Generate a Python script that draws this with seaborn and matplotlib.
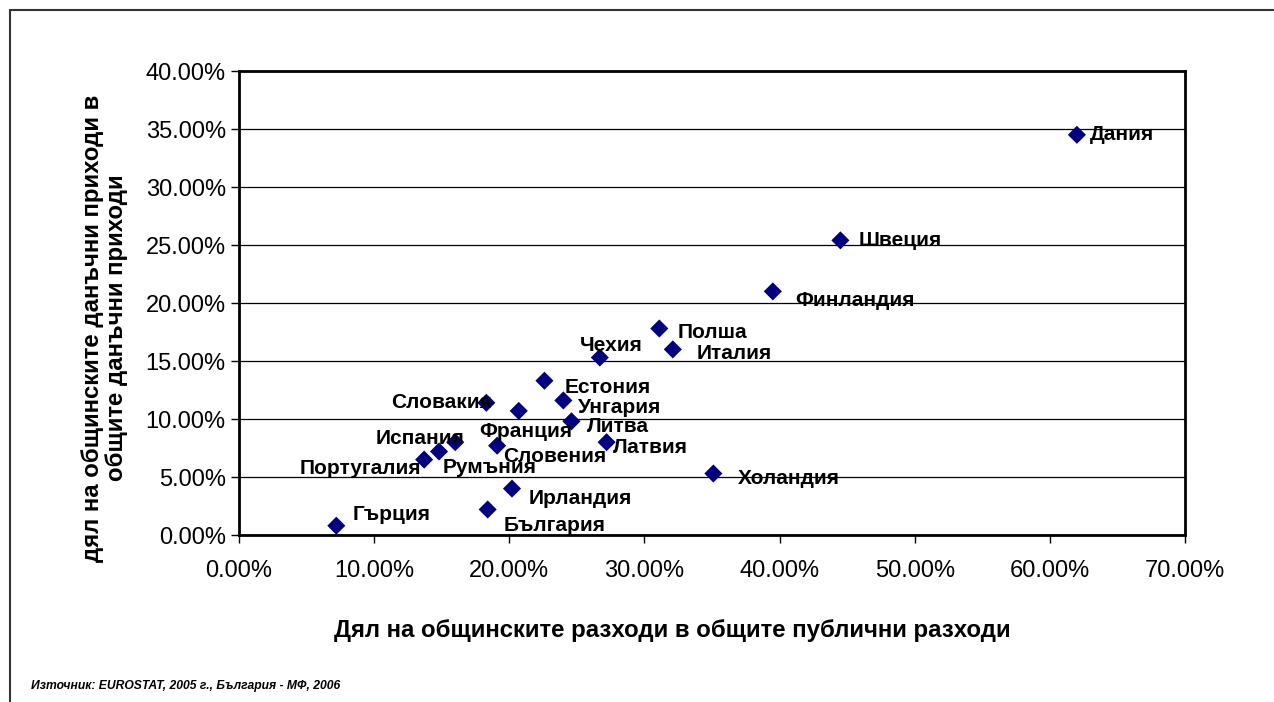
import numpy as np
import pandas as pd
import matplotlib
matplotlib.use('Agg')
import matplotlib.pyplot as plt
import seaborn as sns
from matplotlib.patches import Rectangle
from matplotlib.ticker import PercentFormatter

# data (share of municipal spending / share of municipal tax revenue)
countries = ['Дания', 'Швеция', 'Финландия', 'Полша', 'Италия', 'Чехия', 'Естония',
             'Словакия', 'Унгария', 'Франция', 'Литва', 'Испания', 'Латвия', 'Словения',
             'Румъния', 'Португалия', 'Холандия', 'Ирландия', 'България', 'Гърция']
spend_share = [0.620, 0.445, 0.395, 0.311, 0.321, 0.267, 0.226,
               0.183, 0.240, 0.207, 0.246, 0.160, 0.272, 0.191,
               0.148, 0.137, 0.351, 0.202, 0.184, 0.072]
tax_share = [0.345, 0.254, 0.210, 0.178, 0.160, 0.153, 0.133,
             0.114, 0.116, 0.107, 0.098, 0.080, 0.080, 0.077,
             0.072, 0.065, 0.053, 0.040, 0.022, 0.008]

# label placement: offset in pixels from the marker, and horizontal alignment
label_offsets = {
    'Дания': (13, 0, 'left'), 'Швеция': (18, 0, 'left'), 'Финландия': (22, -9, 'left'),
    'Полша': (18, -4, 'left'), 'Италия': (24, -4, 'left'), 'Чехия': (-20, 12, 'left'),
    'Естония': (20, -7, 'left'), 'Словакия': (6, 0, 'right'), 'Унгария': (15, -7, 'left'),
    'Франция': (7, -21, 'center'), 'Литва': (15, -5, 'left'), 'Испания': (9, 4, 'right'),
    'Латвия': (6, -5, 'left'), 'Словения': (6, -11, 'left'), 'Румъния': (4, -16, 'left'),
    'Португалия': (-3, -9, 'right'), 'Холандия': (24, -5, 'left'), 'Ирландия': (17, -10, 'left'),
    'България': (16, -16, 'left'), 'Гърция': (16, 11, 'left'),
}

df = pd.DataFrame({'country': countries, 'spend': spend_share, 'tax': tax_share})

sns.set_style('white')
plt.rcParams['font.family'] = ['Liberation Sans', 'DejaVu Sans']
plt.rcParams['text.color'] = 'black'

fig = plt.figure(figsize=(12.74, 7.02), dpi=100)
ax = fig.add_axes([239 / 1274, 1 - 535 / 702, 946 / 1274, 464 / 702])

# outer chart frame (only top and left edges visible in the picture)
fig.patches.append(Rectangle((10 / 1274, -0.1), 1.2, 1 - 10 / 702 + 0.1,
                             transform=fig.transFigure, fill=False,
                             edgecolor='#333333', linewidth=1.5))

sns.scatterplot(data=df, x='spend', y='tax', ax=ax, marker='D', s=85,
                color='#000080', edgecolor='none', zorder=3, legend=False)

for name, x, y in zip(countries, spend_share, tax_share):
    dx, dy, ha = label_offsets[name]
    ax.annotate(name, (x, y), xytext=(dx, dy), textcoords='offset pixels',
                ha=ha, va='center', fontsize=15, fontweight='bold', color='black')

ax.set_xlim(0, 0.7)
ax.set_ylim(0, 0.4)
ax.set_xticks(np.arange(0, 0.71, 0.1))
ax.set_yticks(np.arange(0, 0.41, 0.05))
ax.xaxis.set_major_formatter(PercentFormatter(1.0, decimals=2))
ax.yaxis.set_major_formatter(PercentFormatter(1.0, decimals=2))
ax.tick_params(axis='both', direction='out', length=6, width=1, colors='black',
               labelsize=17, left=True, bottom=True)
ax.tick_params(axis='y', pad=3.5)
ax.tick_params(axis='x', pad=12)
ax.grid(axis='y', color='black', linewidth=0.9)
ax.set_axisbelow(True)
for sp in ax.spines.values():
    sp.set_color('black')
    sp.set_linewidth(2)

ax.set_xlabel('Дял на общинските разходи в общите публични разходи',
              fontsize=17.3, fontweight='bold', color='black', va='center')
ax.xaxis.set_label_coords((672 - 239) / 946, (535 - 630) / 464)
ax.set_ylabel('дял на общинските данъчни приходи в\nобщите данъчни приходи',
              fontsize=17.3, fontweight='bold', color='black', linespacing=1.05,
              va='center')
ax.yaxis.set_label_coords((104.5 - 239) / 946, (535 - 328) / 464)

fig.text(31 / 1274, 1 - 686 / 702, 'Източник: EUROSTAT, 2005 г., България - МФ, 2006',
         fontsize=8.7, fontweight='bold', style='italic', va='center', ha='left',
         color='black')

fig.savefig('out.png', dpi=100)
